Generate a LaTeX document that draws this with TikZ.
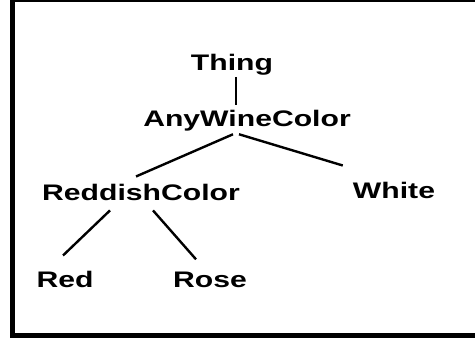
\documentclass[tikz,border=0pt]{standalone}
\usepackage{fontspec}
\setmainfont{Liberation Sans}
\usepackage{graphicx}
\begin{document}
\begin{tikzpicture}[x=1pt,y=1pt,
  lbl/.style={font=\fontsize{22.5}{22.5}\selectfont\bfseries, inner sep=0pt, anchor=base},
  edge/.style={line width=2.4pt, black},
  frame/.style={line width=5pt, black}]
\useasboundingbox (0,0) rectangle (475,-339);
\node[lbl] (thing) at (232,-71) {\scalebox{1.34}[1]{Thing}};
\node[lbl] (awc) at (247,-127) {\scalebox{1.34}[1]{AnyWineColor}};
\node[lbl] (rc) at (141,-201) {\scalebox{1.34}[1]{ReddishColor}};
\node[lbl] (white) at (394,-199) {\scalebox{1.34}[1]{White}};
\node[lbl] (red) at (65,-288) {\scalebox{1.34}[1]{Red}};
\node[lbl] (rose) at (210,-288) {\scalebox{1.34}[1]{Rose}};
\draw[edge] ([shift={(4,-1)}]thing.south) -- ([shift={(-11,5)}]awc.north);
\draw[edge] ([shift={(-14,-2.4)}]awc.south) -- ([shift={(-5,8)}]rc.north);
\draw[edge] ([shift={(-8,-2.4)}]awc.south) -- ([shift={(-10,17)}]white.north west);
\draw[edge] ([shift={(-31,-9)}]rc.south) -- ([shift={(-2,16)}]red.north);
\draw[edge] ([shift={(12,-9)}]rc.south) -- ([shift={(-14,13)}]rose.north);
\draw[frame] (12.5,0) -- (12.5,-335.5) -- (475,-335.5);
\draw[line width=2pt] (12.5,-1) -- (475,-1);
\end{tikzpicture}
\end{document}
